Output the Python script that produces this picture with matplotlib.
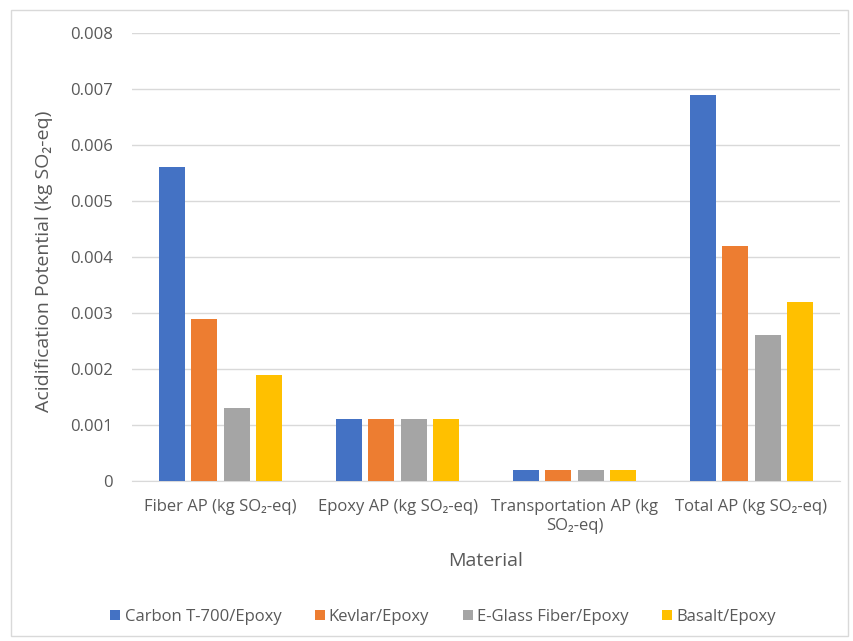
import matplotlib
matplotlib.use("Agg")
import matplotlib.pyplot as plt
from matplotlib.patches import Rectangle
import numpy as np

plt.rcParams['font.family'] = ['Open Sans', 'DejaVu Sans']

categories = ["Fiber AP (kg SO\u2082-eq)", "Epoxy AP (kg SO\u2082-eq)",
              "Transportation AP (kg\nSO\u2082-eq)", "Total AP (kg SO\u2082-eq)"]
series_names = ["Carbon T-700/Epoxy", "Kevlar/Epoxy", "E-Glass Fiber/Epoxy", "Basalt/Epoxy"]
carbon = [0.0056, 0.0011, 0.0002, 0.0069]
kevlar = [0.0029, 0.0011, 0.0002, 0.0042]
eglass = [0.0013, 0.0011, 0.0002, 0.0026]
basalt = [0.0019, 0.0011, 0.0002, 0.0032]
yticks = [0, 0.001, 0.002, 0.003, 0.004, 0.005, 0.006, 0.007, 0.008]
ytick_labels = ["0", "0.001", "0.002", "0.003", "0.004", "0.005", "0.006", "0.007", "0.008"]

colors = ["#4472C4", "#ED7D31", "#A5A5A5", "#FFC000"]
text_color = "#595959"
grid_color = "#D9D9D9"

fig = plt.figure(figsize=(8.54, 6.41), dpi=100)
fig.patches.append(Rectangle((11 / 854, 1 - 636 / 641), 837 / 854, 626 / 641,
                             transform=fig.transFigure, fill=False,
                             edgecolor=grid_color, linewidth=1))
ax = fig.add_axes([132 / 854, 1 - 481 / 641, 708 / 854, 448 / 641])

x = np.arange(len(categories))
width = 0.147
step = 0.181
for i, (name, vals) in enumerate(zip(series_names, [carbon, kevlar, eglass, basalt])):
    ax.bar(x + (i - 1.5) * step, vals, width, color=colors[i], label=name, zorder=3)

ax.set_xlim(-0.5, len(categories) - 0.5)
ax.set_ylim(0, 0.008)
ax.set_yticks(yticks)
ax.set_yticklabels(ytick_labels)
ax.set_xticks(x)
ax.set_xticklabels(categories, linespacing=1.25)
ax.tick_params(axis='both', length=0, colors=text_color, labelsize=12)
ax.tick_params(axis='y', pad=14)
ax.tick_params(axis='x', pad=13)
ax.grid(axis='y', color=grid_color, linewidth=1, zorder=0)
for s in ["top", "right", "left"]:
    ax.spines[s].set_visible(False)
ax.spines["bottom"].set_color(grid_color)

ax.set_ylabel("Acidification Potential (kg SO\u2082-eq)", color=text_color, fontsize=14)
ax.yaxis.set_label_coords((53 - 132) / 708, (481 - 261) / 448)
ax.set_xlabel("Material", color=text_color, fontsize=14, va="center")
ax.xaxis.set_label_coords(0.5, (481 - 561) / 448)

leg = fig.legend(loc="center", bbox_to_anchor=(443 / 854, 1 - 617 / 641), ncol=4,
                 frameon=False, fontsize=12, handlelength=0.6, handleheight=0.6,
                 handletextpad=0.25, columnspacing=2.0)
for t in leg.get_texts():
    t.set_color(text_color)

fig.savefig("out.png", dpi=100)
